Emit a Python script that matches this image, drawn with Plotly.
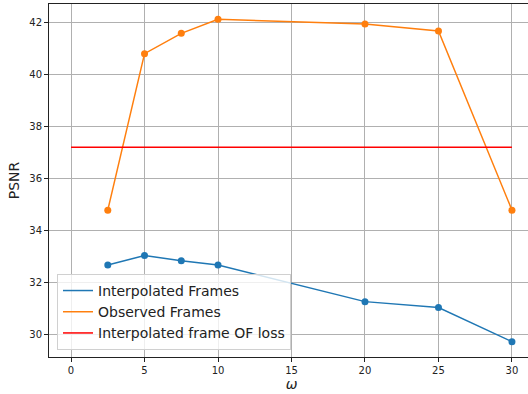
import plotly.graph_objects as go

omega = [2.5, 5, 7.5, 10, 20, 25, 30]
interp = [32.69, 33.05, 32.85, 32.69, 31.28, 31.05, 29.74]
observed = [34.8, 40.82, 41.6, 42.14, 41.96, 41.69, 34.8]
of_x = [0, 30]
of_loss = [37.22, 37.22]

xticks = [0, 5, 10, 15, 20, 25, 30]
yticks = [30, 32, 34, 36, 38, 40, 42]

blue, orange, red = "#1f77b4", "#ff7f0e", "red"

fig = go.Figure()
fig.add_trace(go.Scatter(x=omega, y=interp, mode="lines+markers", showlegend=False,
                         line=dict(color=blue, width=1.5), marker=dict(size=7, color=blue)))
fig.add_trace(go.Scatter(x=omega, y=observed, mode="lines+markers", showlegend=False,
                         line=dict(color=orange, width=1.5), marker=dict(size=7, color=orange)))
fig.add_trace(go.Scatter(x=of_x, y=of_loss, mode="lines", showlegend=False,
                         line=dict(color=red, width=1.5)))
# legend entries (lines only, as in the reference)
for name, col in [("Interpolated Frames", blue), ("Observed Frames", orange),
                  ("Interpolated frame OF loss", red)]:
    fig.add_trace(go.Scatter(x=[None], y=[None], mode="lines", name=name,
                             line=dict(color=col, width=1.5)))

# figure is slightly wider than the window: the right spine falls outside, as in the reference
fig.update_layout(
    width=534, height=394,
    margin=dict(l=49, r=0, t=4, b=37, autoexpand=False),
    paper_bgcolor="white", plot_bgcolor="white",
    font=dict(family="DejaVu Sans", size=10, color="#222"),
    showlegend=True,
    legend=dict(x=0.0165, y=0.02, xanchor="left", yanchor="bottom",
                bgcolor="rgba(255,255,255,0.8)", bordercolor="#d0d0d0", borderwidth=1,
                font=dict(size=14, color="#222"), tracegroupgap=0, itemwidth=30),
)
fig.update_xaxes(range=[-1.5, 31.5], tickvals=xticks, ticks="outside", ticklen=4, tickcolor="#222",
                 showgrid=True, gridcolor="#b0b0b0", gridwidth=0.8, zeroline=False, automargin=False,
                 showline=True, linecolor="#222", linewidth=1, mirror=True,
                 title=dict(text="<i>ω</i>", font=dict(size=14), standoff=0))
fig.update_yaxes(range=[29.15, 42.73], tickvals=yticks, ticks="outside", ticklen=4, tickcolor="#222",
                 showgrid=True, gridcolor="#b0b0b0", gridwidth=0.8, zeroline=False, automargin=False,
                 showline=True, linecolor="#222", linewidth=1, mirror=True,
                 title=dict(text="PSNR", font=dict(size=14), standoff=6))

fig.write_html(
    "out.html",
    config={"displayModeBar": False},
    post_script="document.body.style.margin='0';document.body.style.overflow='hidden';"
                "document.documentElement.style.overflow='hidden';",
)
